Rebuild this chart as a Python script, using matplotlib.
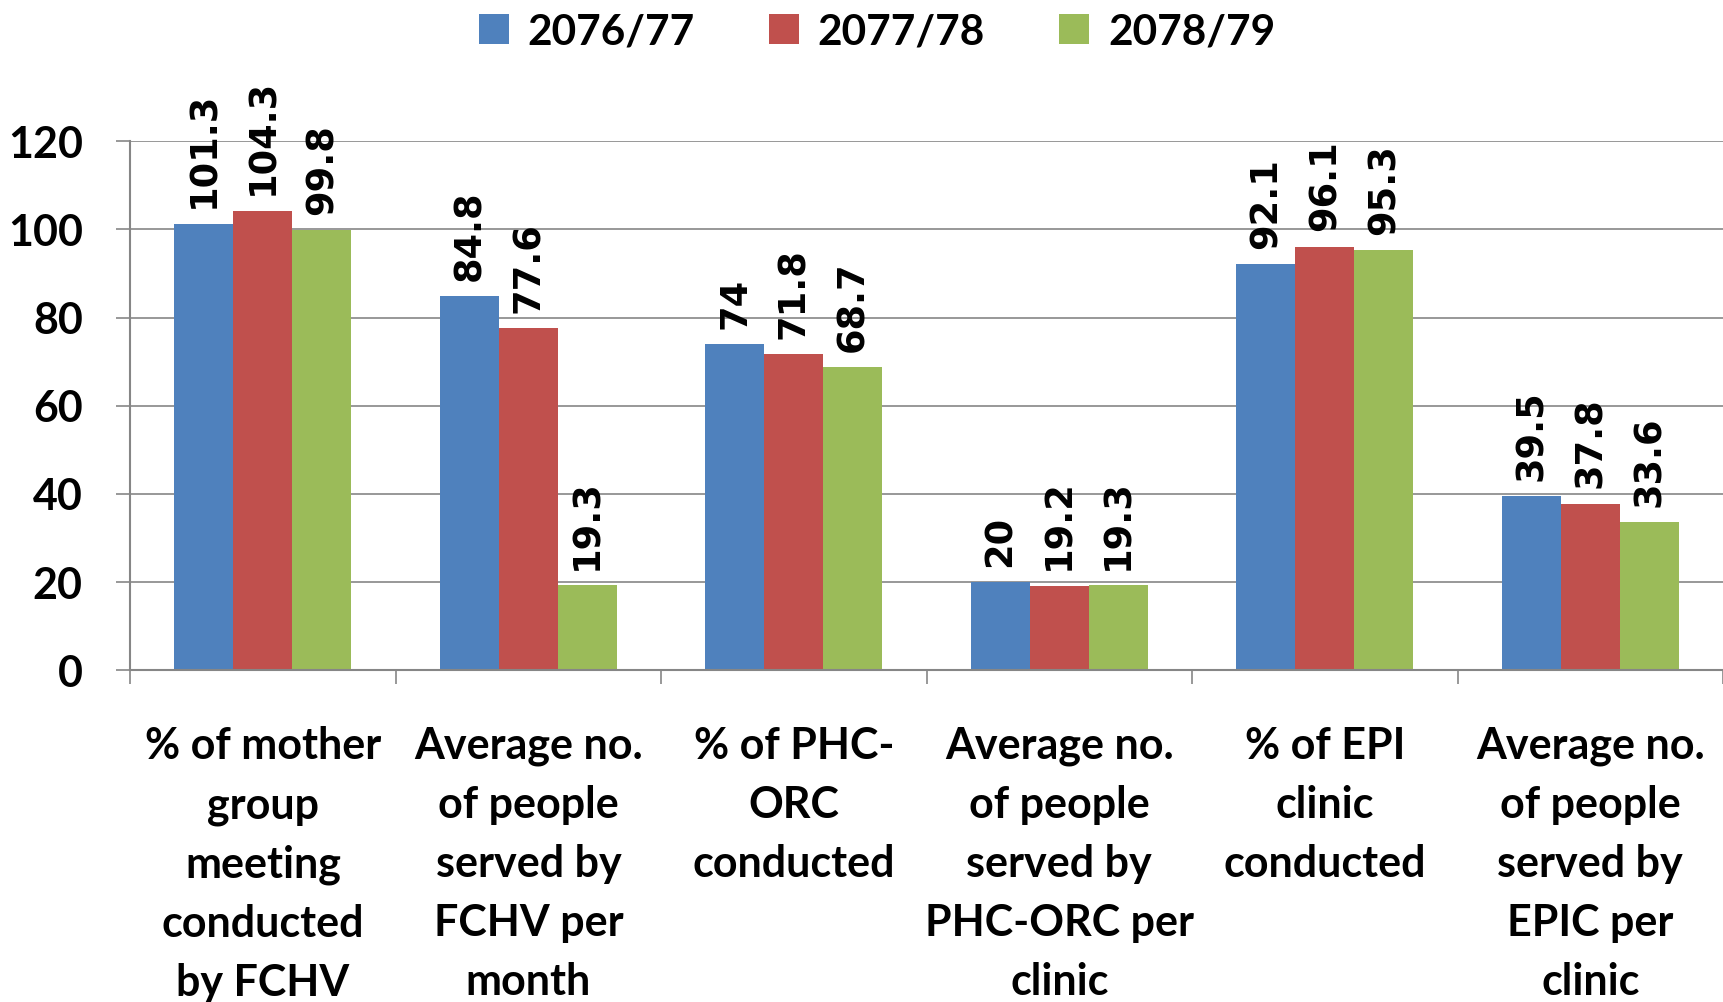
import matplotlib
matplotlib.use("Agg")
import matplotlib.pyplot as plt
import numpy as np

categories = [
    "% of mother\ngroup\nmeeting\nconducted\nby FCHV",
    "Average no.\nof people\nserved by\nFCHV per\nmonth",
    "% of PHC-\nORC\nconducted",
    "Average no.\nof people\nserved by\nPHC-ORC per\nclinic",
    "% of EPI\nclinic\nconducted",
    "Average no.\nof people\nserved by\nEPIC per\nclinic",
]
years = ["2076/77", "2077/78", "2078/79"]
v_2076 = [101.3, 84.8, 74, 20, 92.1, 39.5]
v_2077 = [104.3, 77.6, 71.8, 19.2, 96.1, 37.8]
v_2078 = [99.8, 19.3, 68.7, 19.3, 95.3, 33.6]
colors = ["#4F81BD", "#C0504D", "#9BBB59"]

plt.rcParams["font.family"] = ["Lato", "DejaVu Sans"]
plt.rcParams["font.weight"] = "bold"

fig = plt.figure(figsize=(17.23, 10.02), dpi=100)
ax = fig.add_axes([0.0755, 0.331, 0.9245, 0.528])

x = np.arange(len(categories))
w = 0.222
for i, (vals, c, lab) in enumerate(zip([v_2076, v_2077, v_2078], colors, years)):
    bars = ax.bar(x + (i - 1) * w, vals, w, color=c, label=lab, zorder=2)
    for b, v in zip(bars, vals):
        ax.annotate(f"{v:g}", (b.get_x() + b.get_width() / 2, v), xytext=(0, 11),
                    textcoords="offset points", rotation=90, ha="center", va="bottom",
                    fontsize=26.5, fontweight="bold", family="DejaVu Sans",
                    annotation_clip=False)

ax.set_xlim(-0.5, len(categories) - 0.5)
ax.set_ylim(0, 120)
ax.set_yticks(range(0, 121, 20))
ax.tick_params(axis="y", labelsize=31, length=10, width=1.2, color="#868686", pad=24)
ax.grid(axis="y", color="#868686", lw=1.2, zorder=0)
for s in ["top", "right"]:
    ax.spines[s].set_visible(False)
for s in ["left", "bottom"]:
    ax.spines[s].set_color("#868686")
    ax.spines[s].set_linewidth(1.5)

ax.set_xticks(x)
ax.set_xticklabels(categories, fontsize=31, linespacing=1.58)
ax.tick_params(axis="x", which="major", length=0, pad=40)
ax.set_xticks(np.arange(-0.5, len(categories), 1.0), minor=True)
ax.tick_params(axis="x", which="minor", length=10, width=1.2, color="#868686")

fig.legend(loc="upper center", bbox_to_anchor=(0.509, 1.025), ncol=3, frameon=False,
           fontsize=30.5, handlelength=0.7, handleheight=0.7, columnspacing=1.75,
           handletextpad=0.45)

fig.savefig("out.png", dpi=100)
